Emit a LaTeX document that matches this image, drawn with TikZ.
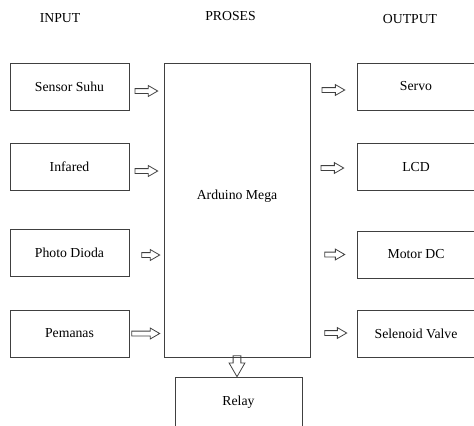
\documentclass[tikz,border=0pt]{standalone}
\usepackage{fontspec}
\setmainfont{Liberation Serif}
\usetikzlibrary{shapes.arrows,calc}

\begin{document}
\begin{tikzpicture}[x=0.75pt,y=-0.75pt,
  font=\fontsize{10.3pt}{12pt}\selectfont,
  box/.style={draw=black!75,line width=0.75pt,inner sep=0pt,minimum width=89.25pt,minimum height=35.25pt},
  outbox/.style={box,minimum width=88.5pt},
  blk/.style={single arrow,draw=black!75,line width=0.6pt,inner xsep=0pt,inner ysep=1.5pt,
    single arrow head extend=2.25pt,single arrow tip angle=60,minimum height=17pt,anchor=tip}]
  \useasboundingbox (0,0) rectangle (474,425);
  % headers
  \node (in) at (60,18) {INPUT};
  \node (proc) at (230.5,16) {PROSES};
  \node (out) at (410,19) {OUTPUT};
  % input side
  \node[box] (sensor) at (69.5,86.5) {Sensor Suhu};
  \node[box] (infra) at (69.5,166.5) {Infared};
  \node[box] (photo) at (69.5,253) {Photo Dioda};
  \node[box] (heater) at (69.5,333.5) {Pemanas};
  % process
  \node[box,minimum width=109.5pt,minimum height=220.5pt] (mega) at (237,210) {};
  \node (megatxt) at (237,196) {Arduino Mega};
  \node[box,minimum width=95.25pt,minimum height=38.25pt] (relay) at (238.5,402.5) {Relay};
  % output side
  \node[outbox] (servo) at (416,86.5) {Servo};
  \node[outbox] (lcd) at (416,167) {LCD};
  \node[outbox] (motor) at (416,254.5) {Motor DC};
  \node[outbox] (valve) at (416,334) {Selenoid Valve};
  % block arrows
  \node[blk] (a1) at ($(mega.west |- sensor.east)+(-5,4.5)$) {};
  \node[blk] (a2) at ($(mega.west |- infra.east)+(-5,4.5)$) {};
  \node[blk,minimum height=13.5pt] (a3) at ($(mega.west |- photo.east)+(-3,2)$) {};
  \node[blk,minimum height=21pt] (a4) at ($(mega.west |- heater.east)+(-3,0)$) {};
  \node[blk] (b1) at ($(servo.west)+(-11,3.5)$) {};
  \node[blk] (b2) at ($(lcd.west)+(-12,1)$) {};
  \node[blk,minimum height=15pt] (b3) at ($(motor.west)+(-11,0)$) {};
  \node[blk,minimum height=16.5pt] (b4) at ($(valve.west)+(-9,-1)$) {};
  \node[blk,rotate=-90,inner ysep=2.6pt,single arrow head extend=3pt,minimum height=15.75pt] (c1) at ($(relay.north)+(-1.5,1)$) {};
\end{tikzpicture}
\end{document}
